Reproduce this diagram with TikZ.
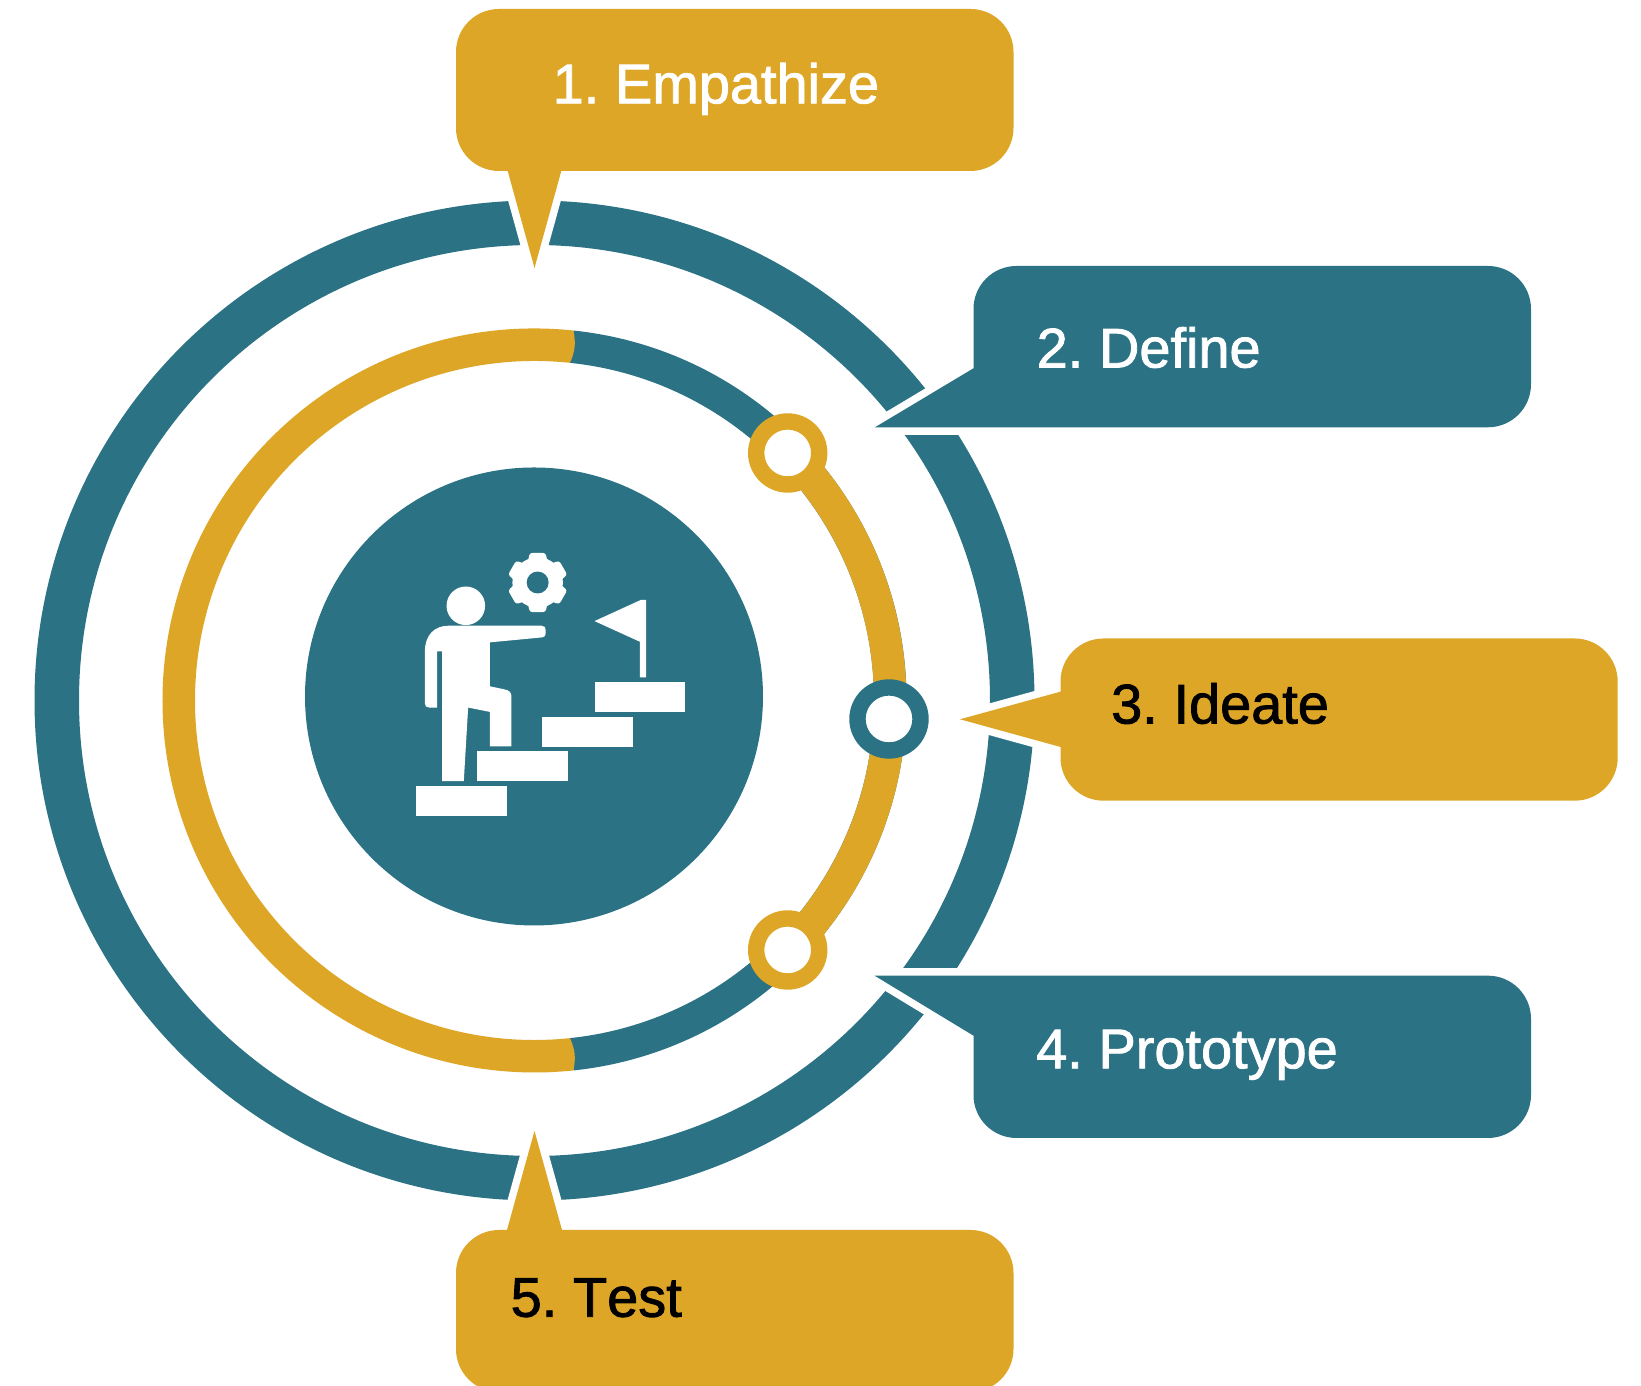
\documentclass[tikz,border=0pt]{standalone}
\usepackage{fontspec}
\setmainfont{Liberation Sans}
\newfontfamily\stepfont[FakeBold=1.5,Kerning=Off]{Liberation Sans}
\newcommand{\stepface}{\stepfont\fontsize{15.9pt}{18pt}\selectfont\spaceskip=0.19em\relax}
\definecolor{mustard}{HTML}{DDA626}
\definecolor{deepteal}{HTML}{2B7285}
\tikzset{
	tailwhite/.style={preaction={draw=white, line width=1.5mm}},
	goldcall/.style={fill=mustard, tailwhite},
	tealcall/.style={fill=deepteal, tailwhite},
	stage/.style={circle, fill=white, line width=1.64mm, minimum size=6.3mm, inner sep=0pt},
	steptext/.style={anchor=base west, inner sep=0pt, font=\stepface}
}
\begin{document}
\begin{tikzpicture}
	% Fill background
	\useasboundingbox (0,0) rectangle (16.41,13.86);
	\fill[white] (0,0) rectangle (16.41,13.86);

	% Define coordinates
	% centre of the rings (C), centre of the disc (D)
	\coordinate (C) at (5.345,6.855);
	\coordinate (D) at (5.34,6.895);

	% Outer ring, the callouts cut it later
	\draw[deepteal, line width=4.45mm] (C) circle (4.7775);

	% Inner ring
	\begin{scope}[shift={(C)}]
		\draw[deepteal, line width=3.25mm] (84:3.5575) arc[start angle=84, end angle=-84, radius=3.5575];
		\draw[mustard, line width=3.25mm] (44.2:3.5575) arc[start angle=44.2, end angle=-44.2, radius=3.5575];
		\fill[mustard] (84:3.72) arc[start angle=84, end angle=276, radius=3.72]
			to[bend right=18] (276:3.395) arc[start angle=276, end angle=84, radius=3.395]
			to[bend right=18] cycle;
	\end{scope}

	% Stage markers on the inner ring
	\node[stage, draw=mustard] (top) at (7.877,9.33) {};
	\node[stage, draw=deepteal] (mid) at (8.89,6.67) {};
	\node[stage, draw=mustard] (low) at (7.877,4.36) {};

	% Centre disc
	\fill[deepteal] (D) circle (2.29);

	% Callouts with their tails
	\path[goldcall] (5.077,12.15) -- (5.345,11.18) -- (5.613,12.15) -- (9.705,12.15) arc (-90:0:.43)
		-- (10.135,13.34) arc (0:90:.43) -- (4.99,13.77) arc (90:180:.43) -- (4.56,12.58) arc (180:270:.43) -- cycle;
	\path[tealcall] (8.75,9.587) -- (14.88,9.587) arc (-90:0:.43) -- (15.31,10.77) arc (0:90:.43)
		-- (10.165,11.20) arc (90:180:.43) -- (9.735,10.177) -- cycle;
	\path[goldcall] (9.60,6.667) -- (10.605,6.943) -- (10.605,7.045) arc (180:90:.43) -- (15.747,7.475) arc (90:0:.43)
		-- (16.177,6.283) arc (0:-90:.43) -- (11.035,5.853) arc (270:180:.43) -- (10.605,6.39) -- cycle;
	\path[tealcall] (8.746,4.103) -- (14.88,4.103) arc (90:0:.43) -- (15.31,2.91) arc (0:-90:.43)
		-- (10.165,2.48) arc (270:180:.43) -- (9.735,3.503) -- cycle;
	\path[goldcall] (5.07,1.56) -- (5.345,2.55) -- (5.62,1.56) -- (9.705,1.56) arc (90:0:.43)
		-- (10.135,.37) arc (0:-90:.43) -- (4.99,-.06) arc (270:180:.43) -- (4.56,1.13) arc (180:90:.43) -- cycle;

	% Callout texts
	\node[steptext, white] (empathize) at (5.52,12.827) {1. Empathize};
	\node[steptext, white] (define) at (10.36,10.185) {2. Define};
	\node[steptext, black] (ideate) at (11.105,6.625) {3. Ideate};
	\node[steptext, white] (prototype) at (10.355,3.177) {4. Prototype};
	\node[steptext, black] (test) at (5.10,.693) {5. Test};

	% Icon in the disc, drawn on a grid of 300 units to the cm
	\begin{scope}[shift={(3.8,8.66)}, x=0.003333cm, y=-0.003333cm]
		% stairs
		\foreach \x/\y in {108/800,291/696,488/592,645/488} {
			\fill[white] (\x,\y) rectangle ++(273,90);
		}
		% flag
		\fill[white] (800,240) -- (785,240) -- (645,304) -- (781,366) -- (781,473) -- (800,473) -- cycle;
		% person
		\fill[white] (258,258) circle (58);
		\fill[white] (205,318) -- (486,318) .. controls (495,318) and (498,323) .. (498,330) -- (498,342)
			.. controls (498,348) and (495,352) .. (488,353) -- (330,368) -- (330,500) -- (373,509)
			.. controls (388,512) and (395,518) .. (395,530) -- (395,681) -- (330,681) -- (330,577)
			-- (265,564) -- (252,785) -- (187,785) -- (187,395) -- (172,395) -- (172,564) -- (148,564)
			.. controls (140,564) and (135,560) .. (135,552) -- (135,395)
			.. controls (135,345) and (165,318) .. (205,318) -- cycle;
		% gear
		\begin{scope}[shift={(474,188)}]
			\fill[white] (0,0) circle (76);
			\foreach \a in {30,90,...,330} {
				\fill[white, rounded corners=0.25mm] (\a-26:68) -- (\a-15:92) -- (\a+15:92) -- (\a+26:68) -- cycle;
			}
			\fill[deepteal] (0,0) circle (33);
		\end{scope}
	\end{scope}
\end{tikzpicture}
\end{document}
